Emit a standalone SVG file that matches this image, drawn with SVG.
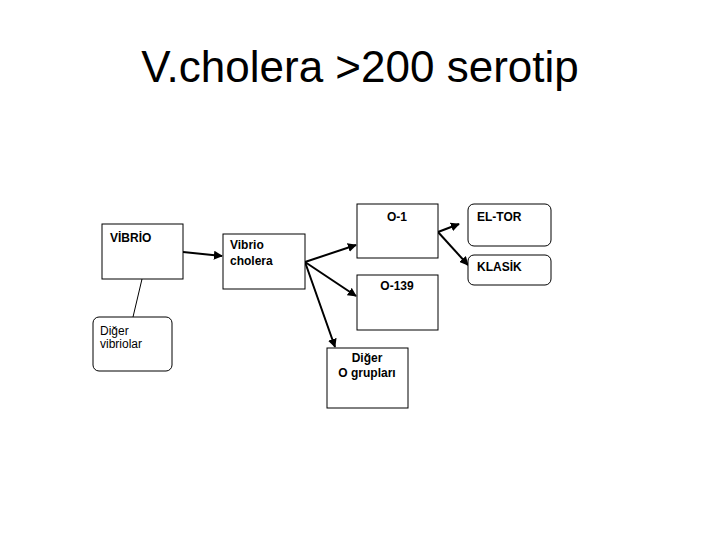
<svg xmlns="http://www.w3.org/2000/svg" width="720" height="540" viewBox="0 0 720 540">
<style>
.box{fill:#fff;stroke:#000;stroke-width:1}
.t{font-family:"Liberation Sans",Arial,sans-serif;font-size:12px;fill:#000}
.b{font-weight:bold}
.c{stroke:#000;stroke-width:2;fill:none}
.thin{stroke:#000;stroke-width:1;fill:none}
</style>
<defs>
<marker id="ah" viewBox="0 0 10 10" refX="9" refY="5" markerWidth="4.5" markerHeight="4.5" orient="auto" markerUnits="strokeWidth">
<path d="M0,0 L10,5 L0,10 z" fill="#000"/>
</marker>
</defs>
<rect width="720" height="540" fill="#fff"/>
<text x="360" y="82" text-anchor="middle" font-family="'Liberation Sans',Arial,sans-serif" font-size="44" fill="#000">V.cholera &gt;200 serotip</text>
<g id="connectors">
<line class="c" x1="183" y1="252" x2="222" y2="256" marker-end="url(#ah)"/>
<line class="thin" x1="142" y1="279" x2="133" y2="317"/>
<line class="c" x1="305" y1="262" x2="356" y2="245" marker-end="url(#ah)"/>
<line class="c" x1="305" y1="262" x2="356" y2="296" marker-end="url(#ah)"/>
<line class="c" x1="305" y1="262" x2="335" y2="347" marker-end="url(#ah)"/>
<line class="c" x1="438" y1="232" x2="459" y2="224" marker-end="url(#ah)"/>
<line class="c" x1="438" y1="232" x2="468" y2="265" marker-end="url(#ah)"/>
</g>
<g id="vibrio">
<rect class="box" x="102" y="224" width="81" height="55"/>
<text class="t b" x="110" y="242" font-size="13">VİBRİO</text>
</g>
<g id="diger-vibriolar">
<rect class="box" x="93" y="317" width="79" height="54" rx="6"/>
<text class="t" x="100" y="335">Diğer</text>
<text class="t" x="100" y="348">vibriolar</text>
</g>
<g id="vibrio-cholera">
<rect class="box" x="223" y="234" width="82" height="55"/>
<text class="t b" x="230" y="249">Vibrio</text>
<text class="t b" x="230" y="265">cholera</text>
</g>
<g id="o1">
<rect class="box" x="357" y="204" width="81" height="54"/>
<text class="t b" x="397" y="221" text-anchor="middle">O-1</text>
</g>
<g id="o139">
<rect class="box" x="357" y="275" width="81" height="55"/>
<text class="t b" x="397" y="290" text-anchor="middle">O-139</text>
</g>
<g id="diger-o">
<rect class="box" x="327" y="348" width="81" height="60"/>
<text class="t b" x="367" y="362" text-anchor="middle">Diğer</text>
<text class="t b" x="367" y="377" text-anchor="middle">O grupları</text>
</g>
<g id="eltor">
<rect class="box" x="468" y="204" width="83" height="42" rx="6"/>
<text class="t b" x="477" y="221">EL-TOR</text>
</g>
<g id="klasik">
<rect class="box" x="468" y="255" width="83" height="30" rx="6"/>
<text class="t b" x="477" y="271">KLASİK</text>
</g>
</svg>
